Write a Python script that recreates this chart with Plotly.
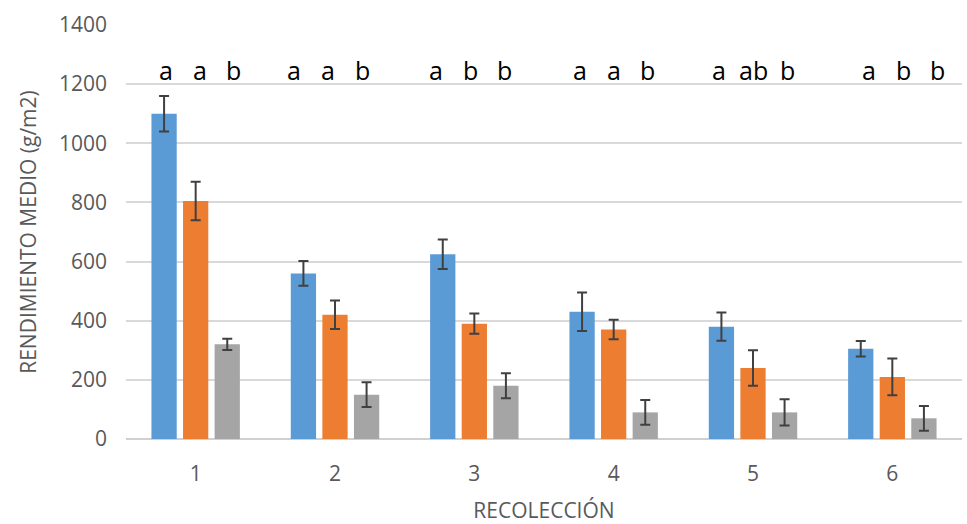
import plotly.graph_objects as go

# Harvest number (recolección) and mean yield per treatment, g/m2
harvests = ["1", "2", "3", "4", "5", "6"]
blue_mean = [1100, 560, 625, 430, 380, 305]
blue_err = [60, 42, 50, 65, 48, 26]
orange_mean = [805, 420, 390, 370, 240, 210]
orange_err = [65, 48, 34, 33, 60, 62]
gray_mean = [320, 150, 180, 90, 90, 70]
gray_err = [19, 42, 42, 42, 44, 42]

# Significance letters above each bar (blue, orange, gray)
letters = [
    ["a", "a", "b"],
    ["a", "a", "b"],
    ["a", "b", "b"],
    ["a", "a", "b"],
    ["a", "ab", "b"],
    ["a", "b", "b"],
]
letter_level = 1248

FONT = "Open Sans"
GREY_TXT = "#595959"
ERR_COLOR = "#404040"

series = [
    (blue_mean, blue_err, "#5b9bd5"),
    (orange_mean, orange_err, "#ed7d31"),
    (gray_mean, gray_err, "#a5a5a5"),
]

fig = go.Figure()
for mean, err, color in series:
    fig.add_trace(go.Bar(
        x=harvests,
        y=mean,
        marker=dict(color=color, line=dict(width=0)),
        error_y=dict(type="data", array=err, visible=True,
                     color=ERR_COLOR, thickness=2, width=5),
        showlegend=False,
    ))

# letters sit in a typed text row, so they are spaced a little wider than bars
LETTER_STEP = 34
LETTER_NUDGE = [4, -7, -4, 0, 0, 11]
annotations = []
for gi, labs in enumerate(letters):
    for bi, lab in enumerate(labs):
        annotations.append(dict(
            x=gi, y=letter_level, xref="x", yref="y",
            text=lab, showarrow=False,
            xshift=(bi - 1) * LETTER_STEP + LETTER_NUDGE[gi],
            yanchor="middle",
            font=dict(family=FONT, size=25, color="#000000"),
        ))

fig.update_layout(
    width=967, height=524,
    margin=dict(l=126, r=5, t=25, b=85),
    paper_bgcolor="white", plot_bgcolor="white",
    barmode="group", bargap=0.32, bargroupgap=0.2,
    font=dict(family=FONT, size=21, color=GREY_TXT),
    annotations=annotations,
    xaxis=dict(
        type="category",
        range=[-0.5, len(harvests) - 0.5],
        automargin=False,
        showgrid=False, zeroline=False,
        showline=False, ticks="",
        ticklabelstandoff=20,
        tickfont=dict(family=FONT, size=21, color=GREY_TXT),
        title=dict(text="RECOLECCIÓN", standoff=19,
                   font=dict(family=FONT, size=21, color=GREY_TXT)),
    ),
    yaxis=dict(
        range=[0, 1400], dtick=200,
        automargin=False,
        showgrid=True, gridcolor="#d9d9d9", gridwidth=1.5,
        zeroline=True, zerolinecolor="#d0d0d0", zerolinewidth=2,
        showline=False, ticks="",
        ticklabelstandoff=18,
        tickfont=dict(family=FONT, size=21, color=GREY_TXT),
        title=dict(text="RENDIMIENTO MEDIO (g/m2)", standoff=16,
                   font=dict(family=FONT, size=21, color=GREY_TXT)),
    ),
)

fig.write_html("out.html")
